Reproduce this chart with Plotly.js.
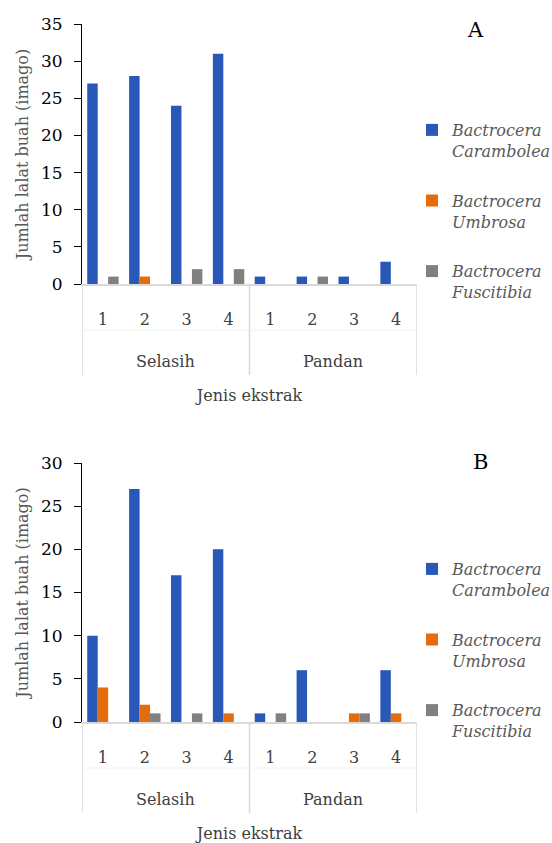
<!DOCTYPE html>
<html><head><meta charset="utf-8">
<script src="https://cdn.plot.ly/plotly-3.0.1.min.js"></script>
<style>html,body{margin:0;padding:0;background:#fff;overflow:hidden;width:552px;height:843px}#chart{overflow:hidden}</style>
</head><body><div id="chart" style="width:552px;height:843px"></div>
<script>
// ---- data ----
const categories = ['1','2','3','4','1','2','3','4'];
const groupNames = ['Selasih','Pandan'];
const seriesNames = ['Bactrocera<br>Carambolea','Bactrocera<br>Umbrosa','Bactrocera<br>Fuscitibia'];
const carambolea_A = [27,28,24,31,1,1,1,3];
const umbrosa_A    = [0,1,0,0,0,0,0,0];
const fuscitibia_A = [1,0,2,2,0,1,0,0];
const carambolea_B = [10,27,17,20,1,6,0,6];
const umbrosa_B    = [4,2,0,1,0,0,1,1];
const fuscitibia_B = [0,1,1,0,1,0,1,0];
const panelLabels = ['A','B'];
const xTitle = 'Jenis ekstrak';
const yTitle = 'Jumlah lalat buah (imago)';

// ---- style ----
const W = 552, H = 843;
const colors = ['#2A58B8','#E46C0A','#808080'];
const FONT = 'DejaVu Serif';
const xIdx = categories.map((c,i)=>i);
const px = v => v / W;
const py = v => 1 - v / H;

function bars(vals, k, xa, ya, leg){
  return {
    type:'bar', x:xIdx, y:vals, name:seriesNames[k], xaxis:xa, yaxis:ya,
    legend:leg, legendgroup:leg+k,
    marker:{color:colors[k], line:{width:0}},
    hoverinfo:'y'
  };
}
const data = [
  bars(carambolea_A,0,'x','y','legend'),
  bars(umbrosa_A,1,'x','y','legend'),
  bars(fuscitibia_A,2,'x','y','legend'),
  bars(carambolea_B,0,'x2','y2','legend2'),
  bars(umbrosa_B,1,'x2','y2','legend2'),
  bars(fuscitibia_B,2,'x2','y2','legend2')
];

const panels = [
  {axisY:284, topY:24, maxY:35},
  {axisY:722, topY:463, maxY:30}
];
const xDom = [px(82), px(417)];

function xaxis(anchor){
  return {domain:xDom, anchor:anchor, range:[-0.5,7.5], tickmode:'array', tickvals:xIdx, ticktext:categories,
    showline:true, linecolor:'#D9D9D9', linewidth:1.5, ticks:'', showgrid:false, zeroline:false,
    ticklabelstandoff:20, tickfont:{family:FONT, size:16, color:'#404040'},
    title:{text:xTitle, standoff:62, font:{family:FONT, size:16, color:'#404040'}}, fixedrange:true};
}
function yaxis(anchor, p){
  return {domain:[py(p.axisY), py(p.topY)], anchor:anchor, range:[0,p.maxY], dtick:5, tick0:0,
    showline:true, linecolor:'#000', linewidth:1, ticks:'outside', ticklen:7, tickcolor:'#000',
    ticklabelstandoff:8,
    showgrid:false, zeroline:false, tickfont:{family:FONT, size:17, color:'#000'},
    title:{text:yTitle, standoff:8, font:{family:FONT, size:16, color:'#595959'}}, fixedrange:true};
}

const shapes = [], annotations = [];
panels.forEach((p,i)=>{
  const xr = i===0 ? 'x' : 'x2';
  [-0.5, 3.5, 7.5].forEach(xv=>{
    shapes.push({type:'line', xref:xr, yref:'paper', x0:xv, x1:xv, y0:py(p.axisY), y1:py(p.axisY+91),
      line:{color:'#D9D9D9', width:1.5}});
  });
  shapes.push({type:'line', xref:xr, yref:'paper', x0:-0.5, x1:7.5, y0:py(p.axisY+46), y1:py(p.axisY+46),
    line:{color:'#F0F0F0', width:1}});
  groupNames.forEach((g,gi)=>{
    annotations.push({xref:xr, yref:'paper', x:1.5+gi*4, y:py(p.axisY+77), text:g, showarrow:false,
      xanchor:'center', yanchor:'middle', font:{family:FONT, size:16, color:'#404040'}});
  });
  annotations.push({xref:'paper', yref:'paper', x:px(i===0?475:480), y:py(i===0?30:462), text:panelLabels[i],
    showarrow:false, xanchor:'center', yanchor:'middle', font:{family:FONT, size:21, color:'#000'}});
});

const legendStyle = (topPx) => ({x:px(412), y:py(topPx), xanchor:'left', yanchor:'top',
  font:{family:FONT, size:16, color:'#595959', style:'italic'}, valign:'top',
  traceorder:'grouped', tracegroupgap:26, bgcolor:'rgba(0,0,0,0)', itemwidth:30});

const layout = {
  width:W, height:H, margin:{l:0,r:0,t:0,b:0,autoexpand:false}, paper_bgcolor:'#fff', plot_bgcolor:'#fff',
  barmode:'group', bargap:0.25, bargroupgap:0,
  showlegend:true,
  xaxis:xaxis('y'), yaxis:yaxis('x', panels[0]),
  xaxis2:xaxis('y2'), yaxis2:yaxis('x2', panels[1]),
  legend:legendStyle(113), legend2:legendStyle(552),
  shapes:shapes, annotations:annotations
};
Plotly.newPlot('chart', data, layout, {displayModeBar:false, staticPlot:true});
</script></body></html>
